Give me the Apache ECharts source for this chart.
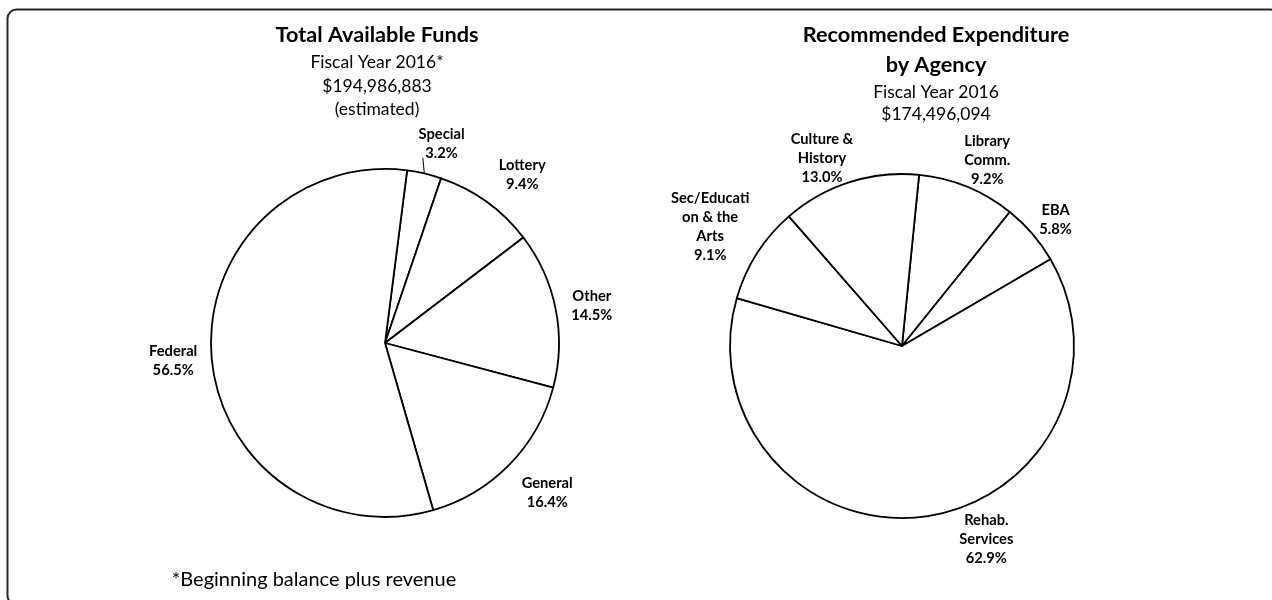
<!DOCTYPE html>
<html>
<head>
<meta charset="utf-8">
<script src="https://cdn.jsdelivr.net/npm/echarts@6/dist/echarts.min.js"></script>
<style>
  html, body { margin: 0; padding: 0; background: #fff; }
  #chart { width: 1272px; height: 600px; }
</style>
</head>
<body>
<div id="chart"></div>
<script>
// left pie - total available funds, FY 2016
const fundNames = ["Special", "Lottery", "Other", "General", "Federal"];
const fundShares = [3.2, 9.4, 14.5, 16.4, 56.5];

// right pie - recommended expenditure by agency
const agencyNames = ["Library\nComm.", "EBA", "Rehab.\nServices", "Sec/Educati\non & the\nArts", "Culture &\nHistory"];
const agencyShares = [9.2, 5.8, 62.9, 9.1, 13.0];

const leftTitle = "Total Available Funds";
const leftSub = ["Fiscal Year 2016*", "$194,986,883", "(estimated)"];
const rightTitle = ["Recommended Expenditure", "by Agency"];
const rightSub = ["Fiscal Year 2016", "$174,496,094"];
const footnote = "*Beginning balance plus revenue";

const FONT = 'Lato, "Liberation Sans", sans-serif';

// label nudges (px), excel doesn't keep labels exactly on the bisector
const leftNudge = {
  "Special": [9, 6], "Lottery": [11, 7], "Other": [0, 4], "General": [6, -3], "Federal": [0, 1]
};
const rightNudge = {
  "Library\nComm.": [6, 8], "EBA": [3, 3], "Rehab.\nServices": [59, -11],
  "Sec/Educati\non & the\nArts": [0, 3], "Culture &\nHistory": [-16, 13]
};

// put the label box just outside the arc, along the slice bisector
function placeLabel(cx, cy, gap, nudge, leader) {
  return function (params) {
    const pts = params.labelLinePoints;
    if (!pts) return {};
    const vx = pts[0][0] - cx, vy = pts[0][1] - cy;
    const r = Math.hypot(vx, vy);
    const ux = vx / r, uy = vy / r;
    const w = params.labelRect.width, h = params.labelRect.height;
    const d = r + gap + Math.abs(ux) * w / 2 + Math.abs(uy) * h / 2;
    const name = params.text.split("\n").slice(0, -1).join("\n");
    const n = nudge[name] || [0, 0];
    const x = cx + ux * d + n[0], y = cy + uy * d + n[1];
    const out = { x: x, y: y, align: "center", verticalAlign: "middle" };
    if (leader.indexOf(name) >= 0) {
      // short leader from the arc straight up to under the label
      out.labelLinePoints = [[pts[0][0], pts[0][1]], [pts[0][0] - 1.5, y + h / 2 - 5]];
    }
    return out;
  };
}

function pieSeries(names, values, center, radius, startAngle, gap, nudge, leader) {
  return {
    type: "pie",
    center: center,
    radius: radius,
    startAngle: startAngle,
    clockwise: true,
    avoidLabelOverlap: false,
    silent: true,
    data: names.map((n, i) => ({
      name: n,
      value: values[i],
      labelLine: leader.indexOf(n) >= 0 ? { lineStyle: { color: "#000", width: 1 } } : undefined
    })),
    itemStyle: { color: "#fff", borderColor: "#000", borderWidth: 1.8 },
    label: {
      show: true,
      position: "outside",
      formatter: (p) => p.name + "\n" + p.value.toFixed(1) + "%",
      color: "#000",
      fontFamily: FONT,
      fontWeight: "bold",
      fontSize: 14.7,
      lineHeight: 19,
      align: "center"
    },
    labelLine: { show: true, length: 10, length2: 0, lineStyle: { color: "rgba(0,0,0,0)" } },
    labelLayout: placeLabel(center[0], center[1], gap, nudge, leader),
    emphasis: { disabled: true }
  };
}

const chart = echarts.init(document.getElementById("chart"));
chart.setOption({
  animation: false,
  backgroundColor: "#fff",
  title: [
    {
      text: leftTitle,
      subtext: leftSub.join("\n"),
      left: 377, top: 22, textAlign: "center", padding: 0, itemGap: 3,
      textStyle: { fontFamily: FONT, fontWeight: "bold", fontSize: 21.7, lineHeight: 26, color: "#000" },
      subtextStyle: { fontFamily: FONT, fontSize: 17.5, lineHeight: 23.5, color: "#000" }
    },
    {
      text: rightTitle.join("\n"),
      subtext: rightSub.join("\n"),
      left: 936, top: 20, textAlign: "center", padding: 0, itemGap: 1,
      textStyle: { fontFamily: FONT, fontWeight: "bold", fontSize: 21.7, lineHeight: 30, color: "#000" },
      subtextStyle: { fontFamily: FONT, fontSize: 17.5, lineHeight: 22, color: "#000" }
    },
    {
      text: footnote,
      left: 314, top: 569, textAlign: "center", padding: 0,
      textStyle: { fontFamily: FONT, fontWeight: "normal", fontSize: 20, lineHeight: 22, color: "#000" }
    }
  ],
  graphic: [{
    type: "rect",
    shape: { x: 7.5, y: 9.5, width: 1271.5, height: 595, r: 9 },
    style: { fill: "none", stroke: "#262626", lineWidth: 2 },
    silent: true
  }],
  series: [
    pieSeries(fundNames, fundShares, [385, 343], 174, 82.7, 13, leftNudge, ["Special"]),
    pieSeries(agencyNames, agencyShares, [902, 346], 172, 84.3, 2, rightNudge, [])
  ]
});
</script>
</body>
</html>
